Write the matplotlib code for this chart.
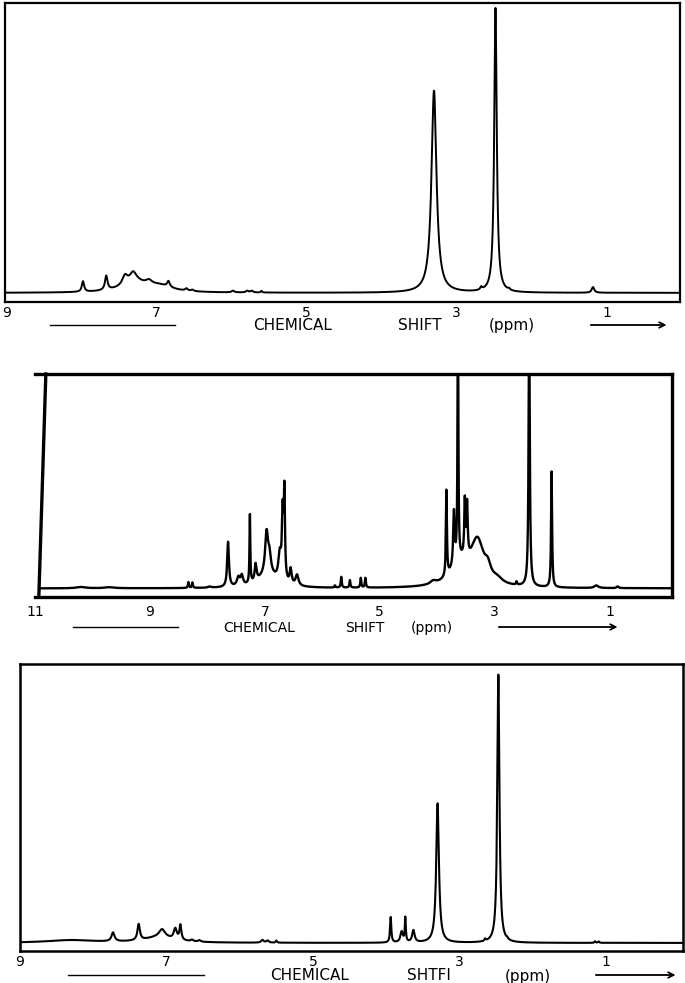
import numpy as np
import matplotlib.pyplot as plt
from matplotlib.lines import Line2D

# peak tables: (shift ppm, height, half width ppm)
peaks_top = [
    (7.98, 0.037, 0.018), (7.67, 0.05, 0.02),
    (7.30, 0.037, 0.2), (6.95, 0.02, 0.2),
    (7.42, 0.03, 0.04), (7.31, 0.03, 0.05), (7.10, 0.015, 0.05),
    (6.84, 0.02, 0.02), (6.60, 0.008, 0.02), (6.52, 0.005, 0.02),
    (5.98, 0.006, 0.02), (5.79, 0.006, 0.02), (5.73, 0.006, 0.02),
    (5.60, 0.006, 0.01),
    (3.30, 0.71, 0.04), (2.67, 0.01, 0.015), (2.48, 1.0, 0.02),
    (2.30, 0.005, 0.015), (1.18, 0.02, 0.02),
]
peaks_mid = [
    (10.2, 0.006, 0.1), (9.7, 0.005, 0.1),
    (8.33, 0.027, 0.01), (8.26, 0.025, 0.01), (7.96, 0.005, 0.03),
    (7.64, 0.21, 0.018), (7.46, 0.04, 0.03), (7.40, 0.045, 0.025),
    (7.26, 0.32, 0.008), (7.16, 0.08, 0.02), (6.95, 0.06, 0.2),
    (6.97, 0.19, 0.03), (6.92, 0.08, 0.03), (6.74, 0.12, 0.03),
    (6.69, 0.3, 0.015), (6.66, 0.40, 0.012), (6.55, 0.07, 0.02),
    (6.44, 0.05, 0.03),
    (5.78, 0.01, 0.01), (5.67, 0.05, 0.01), (5.52, 0.035, 0.01),
    (5.33, 0.045, 0.01), (5.25, 0.045, 0.01),
    (4.07, 0.015, 0.06), (3.30, 0.2, 0.14), (3.60, 0.1, 0.2),
    (3.12, 0.05, 0.06), (2.95, 0.02, 0.1),
    (3.84, 0.40, 0.01), (3.71, 0.25, 0.015), (3.64, 1.3, 0.008),
    (3.52, 0.26, 0.012), (3.48, 0.24, 0.012),
    (2.62, 0.015, 0.01), (2.40, 1.3, 0.012), (2.01, 0.54, 0.01),
    (1.23, 0.012, 0.04), (0.86, 0.008, 0.02),
]
peaks_bot = [
    (8.30, 0.01, 0.4), (7.73, 0.033, 0.025), (7.38, 0.06, 0.02),
    (7.10, 0.02, 0.25), (7.06, 0.03, 0.05), (6.88, 0.04, 0.025),
    (6.81, 0.055, 0.015), (6.65, 0.006, 0.02), (6.55, 0.006, 0.02),
    (5.69, 0.01, 0.02), (5.62, 0.008, 0.02), (5.50, 0.008, 0.01),
    (3.94, 0.095, 0.01), (3.79, 0.04, 0.02), (3.74, 0.09, 0.008),
    (3.63, 0.045, 0.02), (3.30, 0.52, 0.022), (2.65, 0.008, 0.01),
    (2.47, 1.0, 0.017), (2.35, 0.005, 0.01), (1.15, 0.006, 0.01),
    (1.10, 0.005, 0.01),
]

ticks_top = [9, 7, 5, 3, 1]
ticks_mid = [11, 9, 7, 5, 3, 1]
ticks_bot = [9, 7, 5, 3, 1]

W, H = 685, 983
fig = plt.figure(figsize=(W / 100, H / 100), dpi=100)


def place(x0, y0, x1, y1):
    return fig.add_axes([x0 / W, 1 - y1 / H, (x1 - x0) / W, (y1 - y0) / H])


def spectrum(x, peaks):
    y = np.zeros_like(x)
    for c, h, w in peaks:
        y += h / (1 + ((x - c) / w) ** 2)
    return y


def panel(ax, peaks, xlim, ylim, ticks, pad, lw_frame, lw=1.4, x_from=None):
    x = np.linspace(xlim[1], x_from if x_from else xlim[0], 12000)
    ax.plot(x, spectrum(x, peaks), color='black', lw=lw)
    ax.set_xlim(*xlim)
    ax.set_ylim(*ylim)
    ax.set_yticks([])
    ax.set_xticks(ticks)
    ax.set_xticklabels([str(t) for t in ticks])
    ax.tick_params(axis='x', length=0, pad=pad, labelsize=10)
    for s in ax.spines.values():
        s.set_linewidth(lw_frame)


def caption(y, line, arrow, words, size):
    fig.add_artist(Line2D([line[0] / W, line[1] / W], [1 - y / H] * 2,
                          color='black', lw=1))
    fig.add_artist(plt.annotate('', xy=(arrow[1] / W, 1 - y / H),
                                xytext=(arrow[0] / W, 1 - y / H),
                                xycoords='figure fraction',
                                arrowprops=dict(arrowstyle='->', lw=1,
                                                color='black')))
    base = y + size * 0.5
    for xc, word in words:
        fig.text(xc / W, 1 - base / H, word, ha='center', va='baseline',
                 fontsize=size, family='DejaVu Sans')


# top spectrum
ax1 = place(5, 3, 680, 302)
panel(ax1, peaks_top, (9.02, 0.02), (-0.032, 1.019), ticks_top, 3, 1.6)
caption(325, (50, 175), (588, 669),
        [(293, 'CHEMICAL'), (420, 'SHIFT'), (512, '(ppm)')], 11)

# middle spectrum, left edge drawn slanted like the scan
ax2 = place(35, 374, 672, 597)
panel(ax2, peaks_mid, (11.0, -0.085), (-0.04, 1.0), ticks_mid, 6, 2.4,
      lw=1.7, x_from=10.92)
ax2.spines['left'].set_visible(False)
ax2.add_line(Line2D([0.006, 0.017], [0, 1], transform=ax2.transAxes,
                    color='black', lw=2.4, clip_on=False))
caption(627, (73, 178), (496, 620),
        [(259, 'CHEMICAL'), (365, 'SHIFT'), (432, '(ppm)')], 10)

# bottom spectrum
ax3 = place(20, 664, 683, 951)
panel(ax3, peaks_bot, (9.0, -0.05), (-0.03, 1.04), ticks_bot, 3, 1.8,
      lw=1.5)
caption(975, (68, 204), (593, 678),
        [(310, 'CHEMICAL'), (429, 'SHTFI'), (528, '(ppm)')], 11)

fig.savefig('out.png', dpi=100)
